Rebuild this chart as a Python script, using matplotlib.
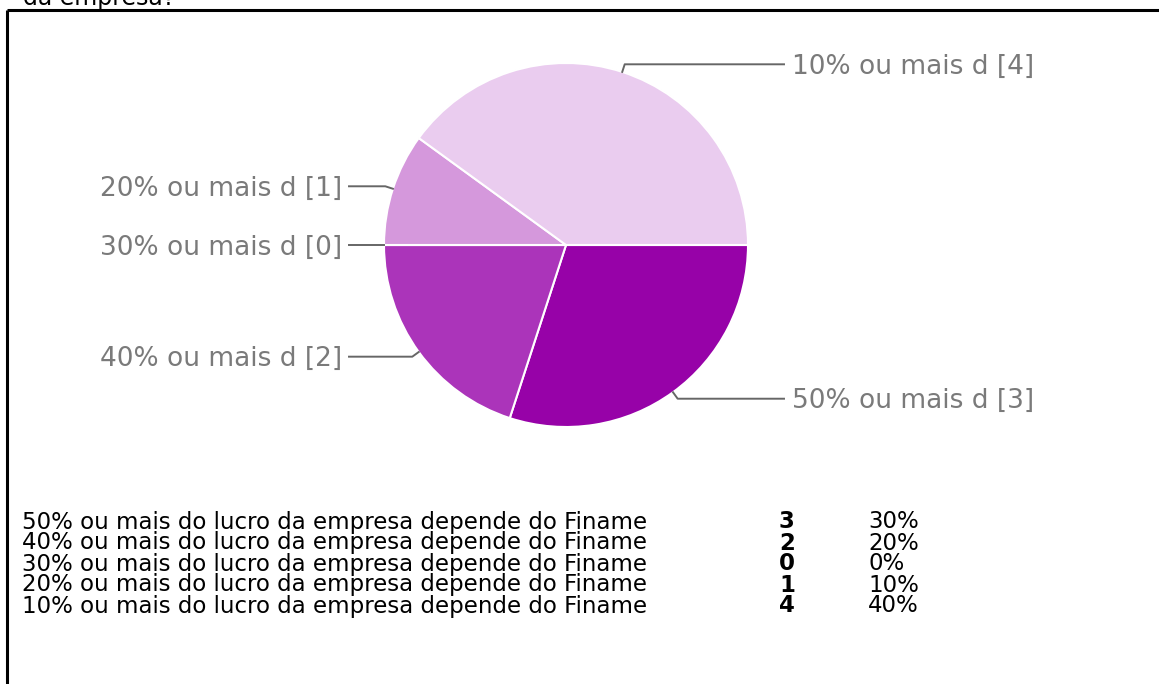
import numpy as np
import matplotlib.pyplot as plt

# survey answers (table order)
categories = [
    "50% ou mais do lucro da empresa depende do Finame",
    "40% ou mais do lucro da empresa depende do Finame",
    "30% ou mais do lucro da empresa depende do Finame",
    "20% ou mais do lucro da empresa depende do Finame",
    "10% ou mais do lucro da empresa depende do Finame",
]
counts = [3, 2, 0, 1, 4]
percents = ["30%", "20%", "0%", "10%", "40%"]
colors = ["#9702A8", "#AB34BA", "#C266CC", "#D598DC", "#EACCEF"]

W, H = 1159, 684
fig = plt.figure(figsize=(W / 100, H / 100), dpi=100)
ax = fig.add_axes([0, 0, 1, 1])

# pie in pixel coords (y axis points down, so counterclock looks clockwise)
cx, cy, r = 566, 245, 182
ax.pie(counts, colors=colors, startangle=0, counterclock=True,
       center=(cx, cy), radius=r,
       wedgeprops=dict(edgecolor="white", linewidth=1.5))

ax.set_xlim(0, W)
ax.set_ylim(H, 0)
ax.set_aspect("auto")
ax.axis("off")

font = ["DejaVu Sans"]

# callout labels
fracs = np.array(counts) / sum(counts)
edges = np.concatenate([[0], np.cumsum(fracs)]) * 360
for i, cat in enumerate(categories):
    mid = np.deg2rad((edges[i] + edges[i + 1]) / 2)
    ux, uy = np.cos(mid), np.sin(mid)
    px, py = cx + r * ux, cy + r * uy
    ex, ey = px + 8 * ux, py + 8 * uy
    label = f"{cat[:13]} [{counts[i]}]"
    if ux > 0:
        ax.plot([px, ex, 784], [py, ey, ey], color="#666666", lw=1.4,
                solid_joinstyle="round")
        ax.text(792, ey + 2.5, label, ha="left", va="center", fontsize=19,
                color="#7a7a7a", family=font)
    else:
        ax.plot([px, ex, 349], [py, ey, ey], color="#666666", lw=1.4,
                solid_joinstyle="round")
        ax.text(342, ey + 2.5, label, ha="right", va="center", fontsize=19,
                color="#7a7a7a", family=font)

# box border and cut-off question text
ax.plot([7, W], [10, 10], color="black", lw=2.2, solid_capstyle="butt")
ax.plot([7, 7], [10, H], color="black", lw=2.2, solid_capstyle="butt")
ax.text(23, 5, "da empresa?", ha="left", va="baseline", fontsize=17,
        color="black", family=font)

# summary table
row_y = 522
for i, cat in enumerate(categories):
    y = row_y + i * 21
    ax.text(22, y, cat, ha="left", va="center", fontsize=16.5, family=font)
    ax.text(779, y, str(counts[i]), ha="left", va="center", fontsize=16.5,
            fontweight="bold", family=font)
    ax.text(868, y, percents[i], ha="left", va="center", fontsize=16.5,
            family=font)

fig.savefig("out.png", dpi=100)
